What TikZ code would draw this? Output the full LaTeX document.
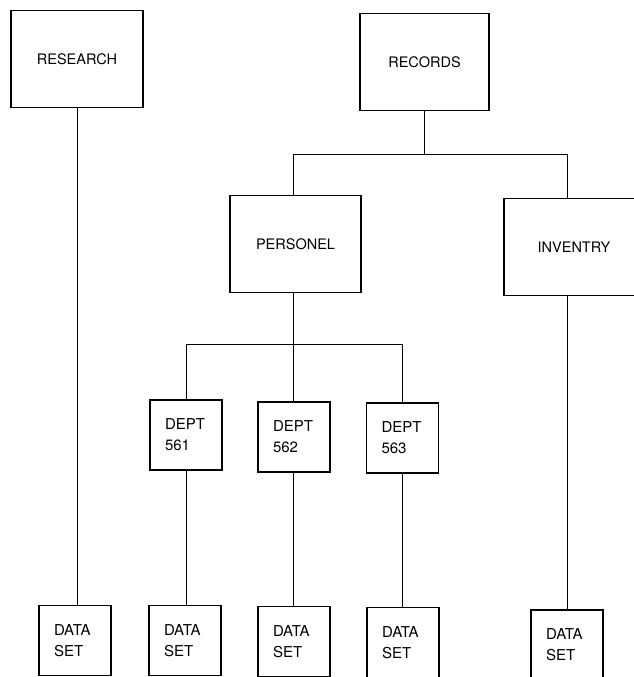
\documentclass[tikz,border=0pt]{standalone}
\usepackage{fontspec}
\setmainfont{TeX Gyre Heros}
\usepackage{tikz}
\usetikzlibrary{positioning, calc}

\tikzset{
    bigbox/.style={draw, line width=1.6pt, minimum height=97pt, font=\fontsize{14.5}{17}\selectfont},
    smallbox/.style={draw, line width=1.6pt, minimum height=70pt, inner xsep=15pt,
        text width=42pt, align=left, font=\fontsize{15}{21}\selectfont},
    link/.style={line width=0.9pt}
}

\begin{document}
\begin{tikzpicture}[x=1pt, y=-1pt]
    \useasboundingbox (0,0) rectangle (634,677);

    % top level
    \node[bigbox, minimum width=132pt] (res) at (77,59) {RESEARCH};
    \node[bigbox, minimum width=129pt] (rec) at (424.5,62) {RECORDS};

    % second level
    \node[bigbox, minimum width=131pt] (per) at (295.5,244) {PERSONEL};
    \node[bigbox, minimum width=140pt] (inv) at (574,247) {INVENTRY};

    % departments
    \node[smallbox] (d561) at (186,435) {DEPT\\561};
    \node[smallbox] (d562) at (294,437) {DEPT\\562};
    \node[smallbox] (d563) at (402.5,438) {DEPT\\563};

    % data sets
    \node[smallbox] (ds1) at (75,640.5) {DATA\\SET};
    \node[smallbox] (ds2) at (185,640.5) {DATA\\SET};
    \node[smallbox] (ds3) at (294,641.5) {DATA\\SET};
    \node[smallbox] (ds4) at (403,642.5) {DATA\\SET};
    \node[smallbox] (ds5) at (567,645) {DATA\\SET};

    % buses
    \coordinate (busL) at (293,154);
    \coordinate (busR) at (567,154);
    \coordinate (depL) at (186,344);
    \coordinate (depR) at (402,344);

    % connectors
    \draw[link] (res.south) -- (res.south |- ds1.north);
    \draw[link] (rec.south) -- (rec.south |- busL);
    \draw[link] (busL |- per.north) -- (busL) -- (busR) -- (busR |- inv.north);
    \draw[link] (busL |- per.south) -- (busL |- depL);
    \draw[link] (depL |- d561.north) -- (depL) -- (depR) -- (depR |- d563.north);
    \draw[link] (busL |- depL) -- (busL |- d562.north);
    \draw[link] (depL |- d561.south) -- (depL |- ds2.north);
    \draw[link] (busL |- d562.south) -- (busL |- ds3.north);
    \draw[link] (depR |- d563.south) -- (depR |- ds4.north);
    \draw[link] (busR |- inv.south) -- (busR |- ds5.north);
\end{tikzpicture}
\end{document}
